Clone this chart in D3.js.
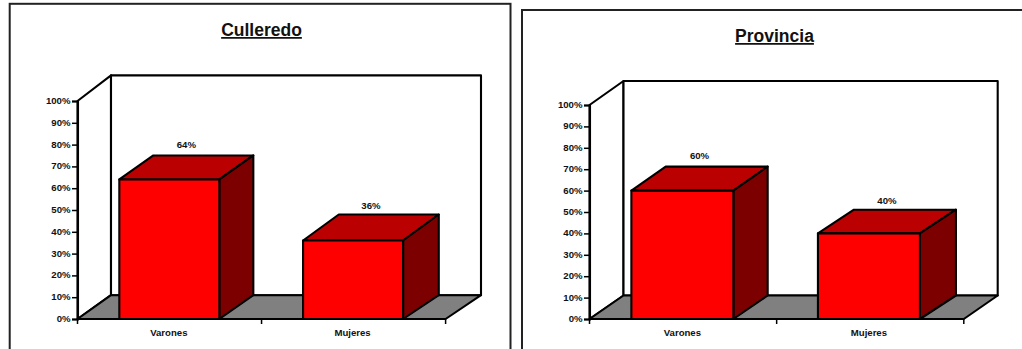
<!DOCTYPE html>
<html><head><meta charset="utf-8">
<script src="https://cdn.jsdelivr.net/npm/d3@7"></script>
<style>html,body{margin:0;padding:0;background:#fff;overflow:hidden}svg{display:block}text{font-family:"Liberation Sans",Arial,sans-serif;fill:#111}</style>
</head><body><svg id="c" width="1022" height="349"></svg>
<script>
const categories = ["Varones", "Mujeres"];
const culleredoValues = [64, 36];
const provinciaValues = [60, 40];
const yTicks = [0,10,20,30,40,50,60,70,80,90,100];
const panels = [
 {title:"Culleredo", values:culleredoValues, frame:[9.7,3.8,510.5,360], x0:77.5,x1:445.6,y0:319,y1:101,dx:33.5,dy:23.8,backX1:481,backTop:75.4,barW:100,
  barShift:[-0.2,-0.5],barDx:[34,35.7],barDy:[24,26],labelGap:[7.3,5.3],catShift:-0.5,titleX:261.5,titleY:36},
 {title:"Provincia", values:provinciaValues, frame:[522,10,1032,360], x0:589.5,x1:963.8,y0:319,y1:105,dx:34,dy:23.5,backX1:997.7,backTop:81,barW:102,
  barShift:[-0.7,-1.3],barDx:[34.3,36],barDy:[24,23.7],labelGap:[7.3,5.7],catShift:0,titleX:774.5,titleY:42}
];
const svg = d3.select("#c");
const poly = (g,pts,fill,sw=2.1)=>g.append("polygon").attr("points",pts.map(p=>p.join(",")).join(" ")).attr("fill",fill).attr("stroke","#000").attr("stroke-width",sw).attr("stroke-linejoin","round");
panels.forEach(p=>{
  const g = svg.append("g");
  const [fx0,fy0,fx1,fy1]=p.frame;
  g.append("rect").attr("x",fx0).attr("y",fy0).attr("width",fx1-fx0).attr("height",fy1-fy0).attr("fill","#fff").attr("stroke","#222").attr("stroke-width",2);
  const x = d3.scaleBand().domain(categories).range([p.x0,p.x1]);
  const y = d3.scaleLinear().domain([0,100]).range([p.y0,p.y1]);
  const {dx,dy}=p, bx0=p.x0+dx, by=y(0)-dy;
  poly(g,[[p.x0,y(0)],[bx0,by],[bx0,p.backTop],[p.x0,y(100)]],"#fff");
  poly(g,[[bx0,by],[p.backX1,by],[p.backX1,p.backTop],[bx0,p.backTop]],"#fff");
  poly(g,[[p.x0,y(0)],[p.x1,y(0)],[p.backX1,by],[bx0,by]],"#808080");
  const ya = g.append("g").attr("transform",`translate(${p.x0},0)`).call(d3.axisLeft(y).tickValues(yTicks).tickFormat(d=>d+"%").tickSize(5.5).tickPadding(1.5));
  ya.select(".domain").attr("stroke","#000").attr("stroke-width",2.1);
  ya.selectAll(".tick line").attr("stroke","#000").attr("stroke-width",1.5);
  ya.selectAll("text").attr("font-size",9.6).attr("font-weight","bold").attr("fill","#111").attr("dy","0.25em").attr("font-family",'"Liberation Sans",Arial,sans-serif');
  const xa = g.append("g").attr("transform",`translate(0,${p.y0})`);
  xa.append("line").attr("x1",p.x0).attr("x2",p.x1).attr("stroke","#000").attr("stroke-width",2.1);
  [0,1,2].forEach(i=>{const tx=p.x0+i*x.bandwidth();xa.append("line").attr("x1",tx).attr("x2",tx).attr("y1",0).attr("y2",5).attr("stroke","#000").attr("stroke-width",1.5);});
  xa.selectAll("text.cat").data(categories).join("text").attr("class","cat").attr("x",(d,i)=>x(d)+x.bandwidth()/2+p.barShift[i]+p.catShift).attr("y",17).attr("text-anchor","middle").attr("font-size",9.6).attr("font-weight","bold").text(d=>d);
  categories.forEach((c,i)=>{
    const v=p.values[i], l=x(c)+(x.bandwidth()-p.barW)/2+p.barShift[i], r=l+p.barW, t=y(v), b=y(0), bdx=p.barDx[i], bdy=p.barDy[i];
    poly(g,[[l,t],[l+bdx,t-bdy],[r+bdx,t-bdy],[r,t]],"#ba0000");
    poly(g,[[r,t],[r+bdx,t-bdy],[r+bdx,b-dy],[r,b]],"#7c0000");
    poly(g,[[l,t],[r,t],[r,b],[l,b]],"#ff0000");
    g.append("text").attr("x",(l+r+bdx)/2).attr("y",t-bdy-p.labelGap[i]).attr("text-anchor","middle").attr("font-size",9.6).attr("font-weight","bold").text(v+"%");
  });
  g.append("text").attr("x",p.titleX).attr("y",p.titleY).attr("text-anchor","middle").attr("font-size",17.5).attr("font-weight","bold").attr("text-decoration","underline").text(p.title);
});
</script></body></html>
